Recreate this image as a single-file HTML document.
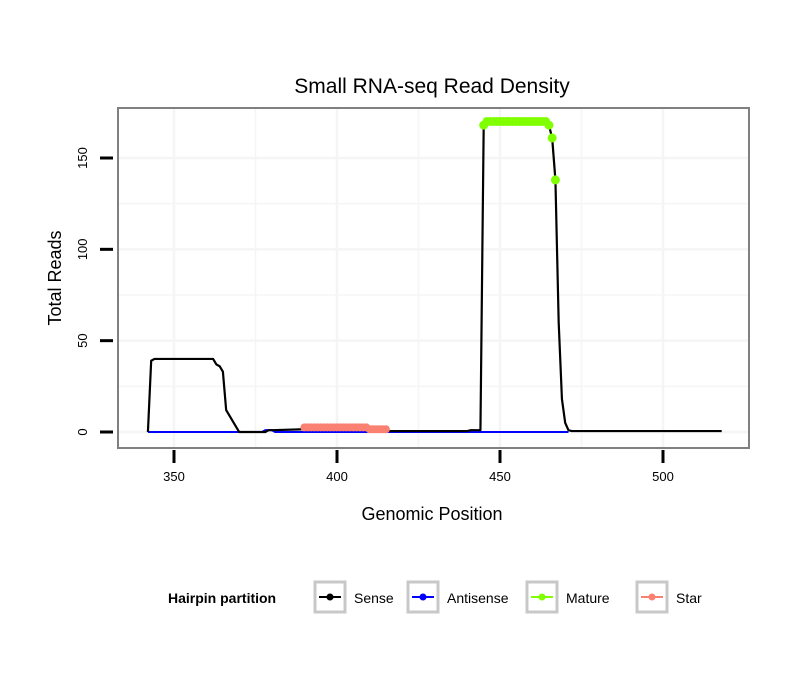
<!DOCTYPE html>
<html><head><meta charset="utf-8"><style>
body{margin:0;background:#fff;}
svg text{font-family:"Liberation Sans",Arial,sans-serif;}
</style></head><body>
<svg id="chart" width="810" height="690" xmlns="http://www.w3.org/2000/svg">
<rect width="810" height="690" fill="#fff"/>
<text x="432" y="93" font-size="21" text-anchor="middle">Small RNA-seq Read Density</text>
<g id="grid"></g>
<g id="series"></g>
<rect x="118" y="108" width="631" height="340" fill="none" stroke="#808080" stroke-width="2"/>
<g id="axes"></g>
<text x="432" y="520" font-size="18" text-anchor="middle">Genomic Position</text>
<text transform="translate(61,278) rotate(-90)" font-size="18" text-anchor="middle">Total Reads</text>
<g id="legend">
<text x="168" y="603" font-size="14" font-weight="bold">Hairpin partition</text>
</g>
</svg>
<script>
const senseX = [342,343,344,362,363,364,365,366,367,368,369,370,378,379,380,390,409,410,415,416,440,441,444,445,446,464,465,466,467,468,469,470,471,472,518];
const senseY = [0,39,40,40,37,36,33,12,9,6,3,0,0,1,1,1.5,1.5,1,1,0.5,0.5,1,1,168,170,170,168,161,138,60,18,5,1,0.5,0.5];
const antiX = [342,377,378,380,381,471];
const antiY = [0,0,1,1,0,0];
const matureX = [445,446,447,448,449,450,451,452,453,454,455,456,457,458,459,460,461,462,463,464,465,466,467];
const matureY = [168,170,170,170,170,170,170,170,170,170,170,170,170,170,170,170,170,170,170,170,168,161,138];
const starX = [390,391,392,393,394,395,396,397,398,399,400,401,402,403,404,405,406,407,408,409,410,411,412,413,414,415];
const starY = [2.5,2.5,2.5,2.5,2.5,2.5,2.5,2.5,2.5,2.5,2.5,2.5,2.5,2.5,2.5,2.5,2.5,2.5,2.5,2.5,1.5,1.5,1.5,1.5,1.5,1.5];
const xTicks = [350,400,450,500];
const yTicks = [0,50,100,150];
const xMinor = [375,425,475];
const yMinor = [25,75,125];
const legendNames = ["Sense","Antisense","Mature","Star"];
const legendColors = ["#000000","#0000ff","#7fff00","#fa8072"];

const NS="http://www.w3.org/2000/svg";
function sx(v){return 174+(v-350)*(163/50);}
function sy(v){return 432-v*(274/150);}
function mk(tag,attrs,parent){const e=document.createElementNS(NS,tag);for(const k in attrs)e.setAttribute(k,attrs[k]);parent.appendChild(e);return e;}
const grid=document.getElementById('grid'),ser=document.getElementById('series'),ax=document.getElementById('axes'),lg=document.getElementById('legend');
mk('rect',{x:118,y:108,width:631,height:340,fill:'#fff'},grid);
xMinor.concat(xTicks).forEach((v,i)=>{const l=mk('line',{x1:sx(v),x2:sx(v),y1:109,y2:447,stroke:'#f5f5f5','stroke-width':xTicks.includes(v)?2.5:1.5},grid);

});
yMinor.concat(yTicks).forEach(v=>{const l=mk('line',{x1:119,x2:748,y1:sy(v),y2:sy(v),stroke:'#f5f5f5','stroke-width':yTicks.includes(v)?2.5:1.5},grid);

});
xTicks.forEach(v=>{const t=mk('line',{x1:sx(v),x2:sx(v),y1:450,y2:463,stroke:'#000','stroke-width':3},ax);


const tx=mk('text',{x:sx(v),y:481,'font-size':13,'text-anchor':'middle'},ax);tx.textContent=v;

});
yTicks.forEach(v=>{const t=mk('line',{x1:100,x2:113,y1:sy(v),y2:sy(v),stroke:'#000','stroke-width':3},ax);


const tx=mk('text',{transform:`translate(87,${sy(v)}) rotate(-90)`,'font-size':13,'text-anchor':'middle'},ax);tx.textContent=v;

});
function line(xs,ys,c,w,name){const p=mk('polyline',{points:xs.map((x,i)=>sx(x)+','+sy(ys[i])).join(' '),fill:'none',stroke:c,'stroke-width':w,'stroke-linejoin':'round'},ser);

}
function pts(xs,ys,c,r,name){xs.forEach((x,i)=>{const d=mk('circle',{cx:sx(x),cy:sy(ys[i]),r:r,fill:c},ser);

});}
line(antiX,antiY,'#0000ff',2,'antisense-line');
line(matureX,matureY,'#7fff00',2,'mature-line');
line(starX,starY,'#fa8072',2,'star-line');
line(senseX,senseY,'#000',2.2,'sense-line');
pts(starX,starY,'#fa8072',4,'star-point');
pts(matureX,matureY,'#7fff00',4.5,'mature-point');
const lx=[315,408,527,637];
legendNames.forEach((n,i)=>{const x=lx[i];
const b=mk('rect',{x:x,y:582,width:30,height:30,fill:'#fff',stroke:'#c8c8c8','stroke-width':3},lg);


mk('line',{x1:x+4,x2:x+26,y1:597,y2:597,stroke:legendColors[i],'stroke-width':2},lg);
mk('circle',{cx:x+15,cy:597,r:3.5,fill:legendColors[i]},lg);
const t=mk('text',{x:x+39,y:603,'font-size':14},lg);t.textContent=n;

});
</script>
</body></html>
